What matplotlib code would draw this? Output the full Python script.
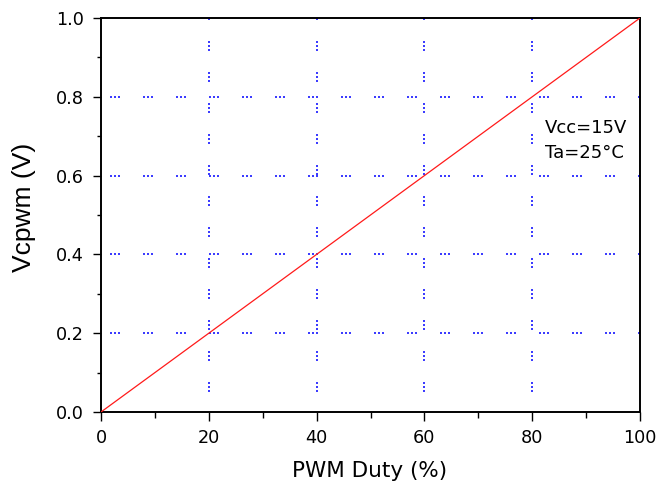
import matplotlib
matplotlib.use("Agg")
import matplotlib.pyplot as plt
from matplotlib.ticker import MultipleLocator

plt.rcParams['font.family'] = ['DejaVu Sans']
plt.rcParams['lines.scale_dashes'] = False

duty = [0, 10, 20, 30, 40, 50, 60, 70, 80, 90, 100]
vcpwm = [0.0, 0.1, 0.2, 0.3, 0.4, 0.5, 0.6, 0.7, 0.8, 0.9, 1.0]
xticks = [0, 20, 40, 60, 80, 100]
yticks = [0.0, 0.2, 0.4, 0.6, 0.8, 1.0]

fig = plt.figure(figsize=(6.58, 4.92), dpi=100)
ax = fig.add_axes([101/658, 1-412/492, 539/658, 394/492])

ax.plot(duty, vcpwm, color='#ff1a1a', lw=0.9, zorder=3)
ax.set_xlim(0, 100)
ax.set_ylim(0, 1.0)
ax.set_xticks(xticks)
ax.set_yticks(yticks)
ax.set_xticklabels([f"{v:d}" for v in xticks])
ax.set_yticklabels([f"{v:.1f}" for v in yticks])
ax.xaxis.set_minor_locator(MultipleLocator(10))
ax.yaxis.set_minor_locator(MultipleLocator(0.1))
ax.tick_params(axis='x', which='major', direction='out', length=6.5, width=1.0,
               labelsize=12.7, pad=6)
ax.tick_params(axis='x', which='minor', direction='out', length=4, width=1.0)
ax.tick_params(axis='y', which='major', direction='out', length=5.5, width=1.0,
               labelsize=12.7, pad=7)
ax.tick_params(axis='y', which='minor', direction='out', length=3, width=1.0)
for s in ax.spines.values():
    s.set_linewidth(1.4)

px = 0.72
gcol = '#3c3cff'
for x in xticks[1:-1]:
    ax.axvline(x, color=gcol, lw=1.4, antialiased=False, zorder=1,
               linestyle=(11*px, (1.2*px, 2.2*px, 1.2*px, 2.2*px, 1.2*px, 21.2*px)))
for y in yticks[1:-1]:
    ax.axhline(y, color=gcol, lw=1.4, antialiased=False, zorder=1,
               linestyle=(23.7*px, (1.2*px, 2.2*px, 1.2*px, 2.2*px, 1.2*px, 23.2*px)))

ax.set_xlabel("PWM Duty (%)", fontsize=15.5)
ax.xaxis.set_label_coords((370-101)/539, (412-461)/394)
ax.set_ylabel("Vcpwm (V)", fontsize=19,
              family=['Liberation Sans Narrow', 'Liberation Sans'])
ax.yaxis.set_label_coords((36-101)/539, (412-207.5)/394)

ax.text(82.4, 0.708, "Vcc=15V", fontsize=13, ha='left', va='baseline')
ax.text(82.4, 0.645, "Ta=25°C", fontsize=13, ha='left', va='baseline')

fig.savefig("out.png", dpi=100)
